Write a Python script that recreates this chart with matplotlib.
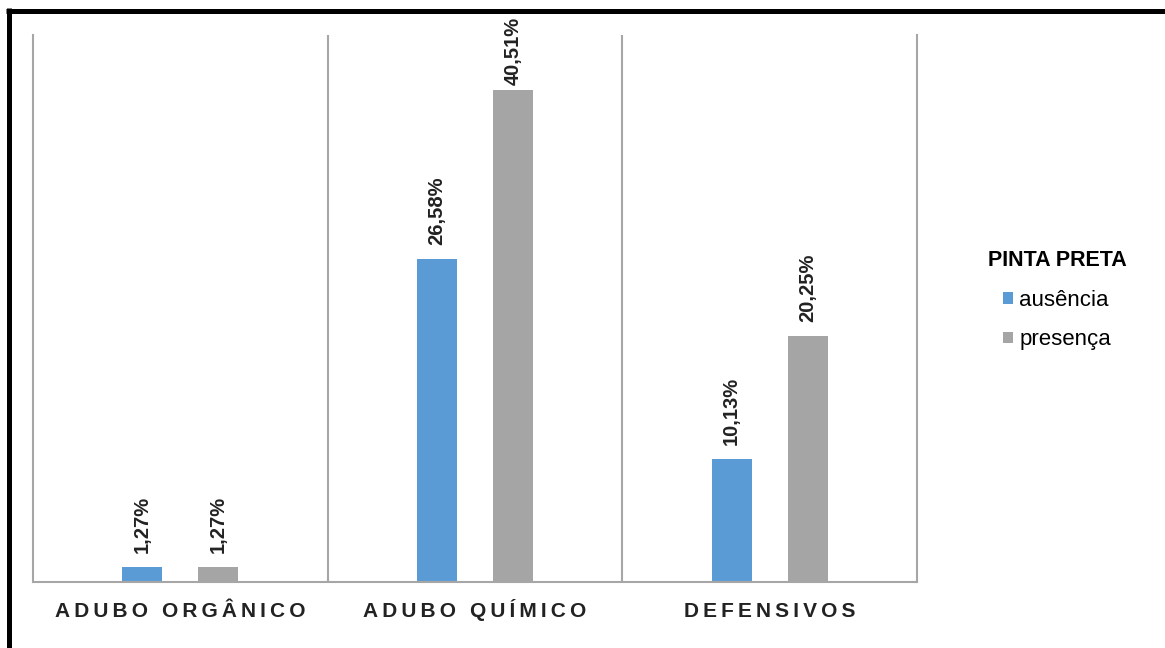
import numpy as np
import matplotlib
matplotlib.use("Agg")
import matplotlib.pyplot as plt
from matplotlib.lines import Line2D

plt.rcParams['font.family'] = ['Liberation Sans', 'DejaVu Sans']

# dados
categorias = ['ADUBO ORGÂNICO', 'ADUBO QUÍMICO', 'DEFENSIVOS']
ausencia = [1.27, 26.58, 10.13]
presenca = [1.27, 40.51, 20.25]
series = ['ausência', 'presença']
cores = ['#5B9BD5', '#A5A5A5']

W, H = 1165, 648
fig = plt.figure(figsize=(W/100, H/100), dpi=100)
ax = fig.add_axes([33/W, 66/H, 884/W, 547/H])

x = np.arange(len(categorias))
w = 0.136
off = 0.129
ymax = 45
b1 = ax.bar(x - off, ausencia, w, color=cores[0], label=series[0])
b2 = ax.bar(x + off, presenca, w, color=cores[1], label=series[1])

def rotulo(bars, vals):
    for b, v in zip(bars, vals):
        txt = ('%.2f%%' % v).replace('.', ',')
        # topo da barra em pixels a partir do topo da figura
        topo = H - 66 - v / ymax * 547
        gap = min(14, topo - 18 - 67)
        ax.annotate(txt, (b.get_x() + b.get_width()/2, v), xytext=(0, gap*0.72),
                    textcoords='offset points', rotation=90, ha='center',
                    va='bottom', fontsize=14.5, fontweight='bold', color='#222222',
                    annotation_clip=False)

rotulo(b1, ausencia)
rotulo(b2, presenca)

ax.set_xlim(-0.5, 2.5)
ax.set_ylim(0, ymax)
gcol = '#A6A6A6'
for s in ['left', 'right', 'bottom']:
    ax.spines[s].set_color(gcol)
    ax.spines[s].set_linewidth(1.5)
ax.spines['top'].set_visible(False)
for xv in [0.5, 1.5]:
    ax.axvline(xv, color=gcol, lw=1.5)
ax.set_yticks([])
ax.set_xticks([])

# rótulos das categorias com espaçamento entre letras
for xi, c in zip(x, categorias):
    ax.text(xi, -35/547, '\u2009'.join(list(c)), transform=ax.get_xaxis_transform(),
            ha='center', va='baseline', fontsize=15, fontweight='bold', color='#222222')

leg = fig.legend(handles=[b1, b2], loc='center', bbox_to_anchor=(1057/W, 1 - 300/H),
                 frameon=False, title='PINTA PRETA', fontsize=16,
                 handlelength=0.45, handleheight=0.45, handletextpad=0.3,
                 labelspacing=0.85)
leg.get_title().set_fontweight('bold')
leg.get_title().set_fontsize(15.5)

# moldura preta
fig.add_artist(Line2D([6/W, 1], [1 - 10.5/H, 1 - 10.5/H], color='black', lw=3.6,
                      solid_capstyle='butt', transform=fig.transFigure))
fig.add_artist(Line2D([8.5/W, 8.5/W], [0, 1 - 8/H], color='black', lw=3.6,
                      solid_capstyle='butt', transform=fig.transFigure))

fig.savefig('out.png', dpi=100)
